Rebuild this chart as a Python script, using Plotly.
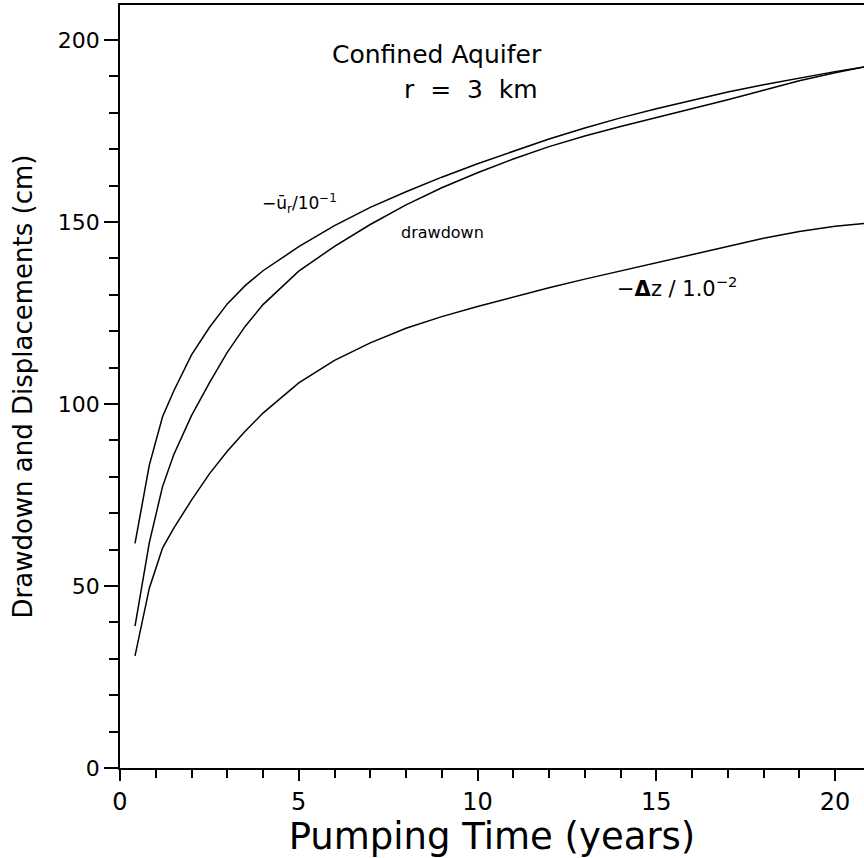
import plotly.graph_objects as go

# Pumping time (years)
time_years = [0.42, 0.82, 1.19, 1.5, 2.0, 2.5, 3.0, 3.5, 4.0, 5.0, 6.0, 7.0, 8.0, 9.0,
              10.0, 11.0, 12.0, 13.0, 14.0, 15.0, 16.0, 17.0, 18.0, 19.0, 20.0, 20.81]

# -u_r / 10^-1 (cm)
ur_scaled = [61.7, 83.2, 96.5, 103.5, 113.5, 121.0, 127.5, 132.5, 136.6, 143.2, 149.0,
             154.0, 158.3, 162.3, 166.0, 169.5, 172.8, 175.8, 178.6, 181.1, 183.5,
             185.7, 187.7, 189.6, 191.3, 192.6]

# drawdown (cm)
drawdown = [39.0, 61.9, 77.3, 86.0, 96.8, 105.8, 114.2, 121.3, 127.3, 136.5, 143.3,
            149.3, 154.7, 159.4, 163.5, 167.3, 170.7, 173.6, 176.2, 178.6, 181.1,
            183.6, 186.2, 188.8, 191.0, 192.6]

# -dz / 10^-2 (cm)
dz_scaled = [30.8, 49.4, 60.4, 65.8, 73.6, 80.8, 87.0, 92.5, 97.5, 105.8, 112.0,
             116.8, 120.8, 124.0, 126.8, 129.4, 131.9, 134.3, 136.5, 138.7, 140.9,
             143.1, 145.5, 147.4, 148.8, 149.6]

FONT = "DejaVu Sans"
line_style = dict(color="black", width=1.5)

fig = go.Figure()
for name, ys in [("ur", ur_scaled), ("drawdown", drawdown), ("dz", dz_scaled)]:
    fig.add_trace(go.Scatter(x=time_years, y=ys, mode="lines", name=name,
                             line=line_style, showlegend=False, hoverinfo="skip"))

annotations = [
    dict(x=8.87, y=195.9, text="Confined Aquifer", font=dict(size=25)),
    dict(x=9.82, y=186.3, text="r  =  3  km", font=dict(size=25)),
    dict(x=9.03, y=147.0, text="drawdown", font=dict(size=16)),
    dict(x=5.03, y=155.0, text="−ū<sub>r</sub>/10<sup>−1</sup>", font=dict(size=17)),
    dict(x=15.58, y=132.1, text="−<b>Δ</b>z / 1.0<sup>−2</sup>", font=dict(size=21)),
]
for a in annotations:
    a.update(xref="x", yref="y", showarrow=False)
    a["font"].update(family=FONT, color="black")

axis_common = dict(
    showgrid=False, zeroline=False, showline=True, linecolor="black", linewidth=1.5,
    ticks="outside", tickcolor="black", tickwidth=1.5,
)

fig.update_layout(
    width=864, height=858,
    margin=dict(l=120, r=0, t=5, b=90),
    paper_bgcolor="white", plot_bgcolor="white",
    font=dict(family=FONT, color="black"),
    annotations=annotations,
    xaxis=dict(
        **axis_common, range=[0, 20.81], dtick=5, tick0=0, ticklen=11, mirror=True,
        tickfont=dict(size=24, family=FONT),
        title=dict(text="Pumping Time (years)", font=dict(size=37, family=FONT), standoff=2),
        minor=dict(dtick=1, ticks="outside", ticklen=8, tickcolor="black", tickwidth=1.5),
    ),
    yaxis=dict(
        **axis_common, range=[0, 209.6], dtick=50, tick0=0, ticklen=14,
        tickfont=dict(size=22, family=FONT),
        title=dict(text="Drawdown and Displacements (cm)", font=dict(size=26, family=FONT), standoff=18),
        minor=dict(dtick=10, ticks="outside", ticklen=9, tickcolor="black", tickwidth=1.5),
    ),
)

fig.write_html("out.html")
